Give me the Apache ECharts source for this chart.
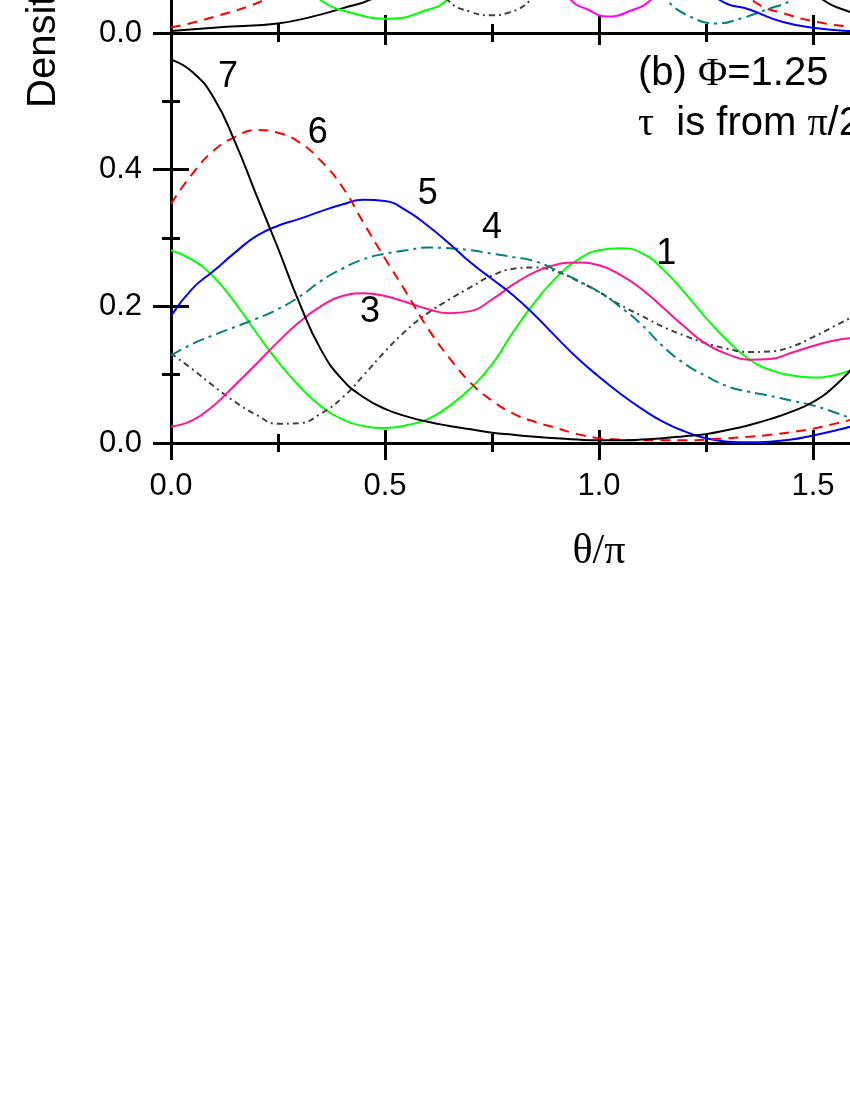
<!DOCTYPE html>
<html>
<head>
<meta charset="utf-8">
<script src="https://cdn.jsdelivr.net/npm/echarts@6/dist/echarts.min.js"></script>
<style>
  html, body { margin: 0; padding: 0; background: #fff; }
  #chart { width: 850px; height: 1100px; }
</style>
</head>
<body>
<div id="chart"></div>
<script>
// theta/pi sample points for panel (b)
const theta = [0, 0.05, 0.1, 0.15, 0.2, 0.25, 0.3, 0.35, 0.4, 0.45, 0.5, 0.55, 0.6, 0.65, 0.7, 0.75, 0.8,
  0.85, 0.9, 0.95, 1.0, 1.05, 1.1, 1.15, 1.2, 1.25, 1.3, 1.35, 1.4, 1.45, 1.5, 1.55, 1.6, 1.65]

// panel (b) curves
const curve1 = [0.282, 0.268, 0.243, 0.205, 0.161, 0.119, 0.083, 0.054, 0.035, 0.025, 0.022, 0.026, 0.035, 0.054, 0.080, 0.115, 0.163,
  0.206, 0.242, 0.268, 0.282, 0.285, 0.278, 0.254, 0.220, 0.183, 0.150, 0.123, 0.107, 0.099, 0.096, 0.099, 0.110, 0.125]
const curve2 = [0.131, 0.108, 0.083, 0.060, 0.041, 0.028, 0.029, 0.043, 0.066, 0.099, 0.134, 0.165, 0.190, 0.210, 0.228, 0.245, 0.255,
  0.257, 0.251, 0.237, 0.221, 0.202, 0.186, 0.170, 0.157, 0.146, 0.138, 0.133, 0.134, 0.141, 0.155, 0.171, 0.187, 0.203]
const curve3 = [0.024, 0.033, 0.055, 0.085, 0.116, 0.148, 0.177, 0.200, 0.215, 0.219, 0.215, 0.206, 0.196, 0.190, 0.193, 0.210, 0.232,
  0.250, 0.261, 0.264, 0.260, 0.246, 0.225, 0.198, 0.170, 0.145, 0.130, 0.122, 0.123, 0.132, 0.142, 0.150, 0.154, 0.156]
const curve4 = [0.128, 0.145, 0.158, 0.170, 0.182, 0.196, 0.214, 0.237, 0.255, 0.269, 0.277, 0.282, 0.286, 0.285, 0.282, 0.277, 0.272,
  0.266, 0.253, 0.238, 0.221, 0.199, 0.173, 0.141, 0.116, 0.098, 0.083, 0.075, 0.069, 0.062, 0.055, 0.045, 0.034, 0.025]
const curve5 = [0.186, 0.226, 0.252, 0.279, 0.303, 0.318, 0.328, 0.339, 0.349, 0.356, 0.354, 0.340, 0.318, 0.292, 0.264, 0.240, 0.216,
  0.187, 0.155, 0.124, 0.097, 0.072, 0.050, 0.031, 0.017, 0.007, 0.002, 0.001, 0.002, 0.005, 0.011, 0.018, 0.026, 0.036]
const curve6 = [0.350, 0.394, 0.428, 0.448, 0.458, 0.454, 0.440, 0.413, 0.375, 0.322, 0.270, 0.220, 0.168, 0.125, 0.088, 0.062, 0.043,
  0.031, 0.022, 0.013, 0.007, 0.005, 0.004, 0.004, 0.004, 0.005, 0.007, 0.009, 0.012, 0.016, 0.021, 0.028, 0.036, 0.046]
const curve7 = [0.561, 0.543, 0.505, 0.440, 0.362, 0.285, 0.205, 0.137, 0.093, 0.067, 0.050, 0.039, 0.031, 0.025, 0.020, 0.015, 0.012,
  0.009, 0.007, 0.005, 0.004, 0.004, 0.005, 0.007, 0.010, 0.013, 0.019, 0.026, 0.035, 0.046, 0.060, 0.083, 0.115, 0.155]

// panel (a): only the lowest part is in the picture
const topBlack = [[0, 0.003], [0.13, 0.009], [0.25, 0.014], [0.33, 0.024], [0.40, 0.036], [0.47, 0.05], [0.55, 0.08], [0.6, 0.11],
  null, [1.45, 0.09], [1.52, 0.05], [1.59, 0.03], [1.65, 0.02]]
const topRed = [[0, 0.008], [0.05, 0.015], [0.13, 0.029], [0.19, 0.041], [0.22, 0.05], [0.28, 0.08], [0.32, 0.1],
  null, [1.3, 0.08], [1.37, 0.043], [1.43, 0.029], [1.51, 0.016], [1.59, 0.009], [1.65, 0.006]]
const topGreen = [[0.28, 0.09], [0.35, 0.048], [0.425, 0.029], [0.51, 0.021], [0.6, 0.034], [0.644, 0.048], [0.7, 0.09]]
const topGray = [[0.6, 0.09], [0.65, 0.046], [0.7, 0.031], [0.745, 0.026], [0.79, 0.03], [0.84, 0.048], [0.88, 0.08]]
const topMagenta = [[0.9, 0.09], [0.935, 0.048], [0.975, 0.034], [1.018, 0.024], [1.08, 0.034], [1.12, 0.048], [1.16, 0.08]]
const topTeal = [[1.1, 0.09], [1.158, 0.048], [1.213, 0.024], [1.276, 0.014], [1.33, 0.021], [1.39, 0.034], [1.45, 0.048], [1.5, 0.07]]
const topBlue = [[1.22, 0.09], [1.283, 0.048], [1.353, 0.034], [1.43, 0.016], [1.51, 0.007], [1.586, 0.003], [1.65, 0.002]]

// curve numbers and where they sit
const curveNames = ['7', '6', '5', '4', '3', '1']
const namePos = [[0.133, 0.536], [0.343, 0.453], [0.600, 0.365], [0.750, 0.315], [0.465, 0.191], [1.157, 0.277]]

const xTicks = [0, 0.5, 1.0, 1.5, 2.0]
const yTicks = [0, 0.2, 0.4, 0.6]

const SANS = 'Liberation Sans'
const SERIF = 'Liberation Serif'

let myChart = echarts.init(document.getElementById('chart'))

const zip = (ys) => theta.map((t, i) => [t, ys[i]])

// helper for the axes, both panels share the same ranges
function xAx(grid, pos, inside, len, label) {
  return {
    type: 'value', gridIndex: grid, position: pos,
    min: xTicks[0], max: xTicks[xTicks.length - 1], interval: 0.5,
    axisLine: { show: true, onZero: false, lineStyle: { color: '#000', width: 3 } },
    axisTick: { show: true, inside: inside, length: len, lineStyle: { color: '#000', width: 3 } },
    minorTick: { show: true, splitNumber: 2, length: 9, lineStyle: { color: '#000', width: 3 } },
    splitLine: { show: false },
    axisLabel: {
      show: label, fontSize: 31, fontFamily: SANS, color: '#000', margin: 28,
      formatter: (v) => v.toFixed(1)
    }
  }
}
function yAx(grid, inside, label) {
  return {
    type: 'value', gridIndex: grid, position: 'left',
    min: yTicks[0], max: yTicks[yTicks.length - 1], interval: 0.2,
    axisLine: { show: true, onZero: false, lineStyle: { color: '#000', width: 3 } },
    axisTick: { show: true, inside: inside, length: 18, lineStyle: { color: '#000', width: 3 } },
    minorTick: { show: true, splitNumber: 2, length: 9, lineStyle: { color: '#000', width: 3 } },
    splitLine: { show: false },
    axisLabel: {
      show: label, fontSize: 31, fontFamily: SANS, color: '#000', margin: 29,
      formatter: (v) => (v > 0.59 ? '' : v.toFixed(1))
    }
  }
}

const xMain = xAx(0, 'bottom', false, 17, true)
xMain.name = 'θ/π'
xMain.nameLocation = 'middle'
xMain.nameGap = 88
xMain.nameTextStyle = { fontSize: 42, fontFamily: SERIF, color: '#000' }

function line(data, color, dash, xi, yi) {
  return {
    type: 'line', data: data, xAxisIndex: xi, yAxisIndex: yi,
    showSymbol: false, smooth: true, connectNulls: false, silent: true,
    lineStyle: { color: color, width: 2, type: dash }
  }
}

let option = {
  animation: false,
  backgroundColor: '#fff',
  // the figure is cut: both panels run past the canvas
  grid: [
    { left: 171, top: 33, width: 856, height: 410, outerBoundsMode: 'none', containLabel: false },
    { left: 171, top: -377, width: 856, height: 410, outerBoundsMode: 'none', containLabel: false }
  ],
  xAxis: [
    xMain,
    xAx(0, 'bottom', true, 13, false),
    xAx(0, 'top', true, 12, false),
    xAx(1, 'bottom', true, 18, false)
  ],
  yAxis: [
    yAx(0, false, true),
    yAx(0, true, false),
    yAx(1, false, true),
    yAx(1, true, false)
  ],
  series: [
    line(zip(curve1), '#00ff00', 'solid', 0, 0),
    line(zip(curve2), '#404040', [6, 4, 2, 4], 0, 0),
    line(zip(curve3), '#ff1493', 'solid', 0, 0),
    line(zip(curve4), '#008080', [12, 5, 3, 5], 0, 0),
    line(zip(curve5), '#0000ff', 'solid', 0, 0),
    line(zip(curve6), '#ff0000', [10, 7], 0, 0),
    line(zip(curve7), '#000000', 'solid', 0, 0),

    line(topBlack, '#000000', 'solid', 3, 2),
    line(topRed, '#ff0000', [10, 7], 3, 2),
    line(topGreen, '#00ff00', 'solid', 3, 2),
    line(topGray, '#404040', [6, 4, 2, 4], 3, 2),
    line(topMagenta, '#ff00ff', 'solid', 3, 2),
    line(topTeal, '#008080', [12, 5, 3, 5], 3, 2),
    line(topBlue, '#0000ff', 'solid', 3, 2),

    {
      type: 'scatter', xAxisIndex: 0, yAxisIndex: 0, symbolSize: 0, silent: true,
      itemStyle: { opacity: 1 },
      data: namePos.map((p, i) => [p[0], p[1], curveNames[i]]),
      label: {
        show: true, position: 'inside', fontSize: 36, fontFamily: SANS, color: '#000', opacity: 1,
        formatter: (p) => p.value[2]
      }
    }
  ],
  graphic: [
    {
      type: 'text', x: 64, y: 108, rotation: Math.PI / 2,
      style: { text: 'Density', font: '40px "Liberation Sans"', fill: '#000', align: 'left', verticalAlign: 'bottom' }
    },
    {
      type: 'text', x: 638, y: 49,
      style: {
        text: '{a|(b) }{g|Φ}{a|=1.25}\n{g|τ}{a|  is from }{g|π}{a|/2}',
        rich: {
          a: { fontFamily: SANS, fontSize: 40, fill: '#000', lineHeight: 50 },
          g: { fontFamily: SERIF, fontSize: 40, fill: '#000', lineHeight: 50 }
        }
      }
    }
  ]
}

myChart.setOption(option)
window.addEventListener('resize', function () {
  myChart.resize()
})
</script>
</body>
</html>
